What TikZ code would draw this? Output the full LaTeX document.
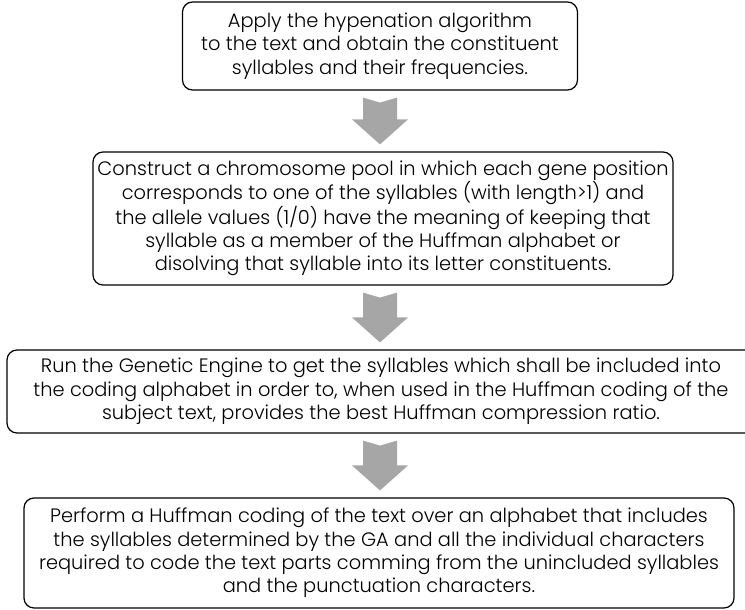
\documentclass[tikz,border=0pt]{standalone}
\usepackage{fontspec}
\setmainfont{Poppins}[UprightFont=* Light]
\usetikzlibrary{calc}

\tikzset{
    stagebox/.style = {draw, line width=1.2pt, rounded corners=10pt, align=center,
                       inner sep=0pt,
                       font=\fontsize{19.4}{23.3}\selectfont},
    arrowfill/.style = {fill=black!35, draw=none}
}

% gray block arrow between two points
\newcommand{\grayarrow}[2]{%
    \path (#1) coordinate (s) (#2) coordinate (e);
    \fill[arrowfill] ($(s)+(-\shaftHalf,0)$) -- ($(s)+(0,\notchDepth)$) -- ($(s)+(\shaftHalf,0)$)
        -- ($(s|-e)+(\shaftHalf,-\headLength)$) -- ($(s|-e)+(\headHalf,-\headLength)$)
        -- (s|-e) -- ($(s|-e)+(-\headHalf,-\headLength)$) -- ($(s|-e)+(-\shaftHalf,-\headLength)$) -- cycle;
}

\begin{document}
\begin{tikzpicture}[x=1pt, y=-1pt]
    % Define dimensions
    \def\shaftHalf{17}   % half width of arrow shaft
    \def\headHalf{28}    % half width of arrow head
    \def\headLength{25}  % length of arrow head
    \def\notchDepth{5}   % notch at the arrow tail
    \def\gap{7}          % gap between box and arrow

    \useasboundingbox (0,0) rectangle (745,610);

    %Boxes
    \node[stagebox, minimum width=395, minimum height=88] (apply) at (380,46)
        {Apply the hypenation algorithm\\ to the text and obtain the constituent\\ syllables and their frequencies.};
    \node[stagebox, minimum width=580, minimum height=133] (pool) at (383,218.5)
        {Construct a chromosome pool in which each gene position\\ corresponds to one of the syllables (with length>1) and\\ the allele values (1/0) have the meaning of keeping that\\ syllable as a member of the Huffman alphabet or\\ disolving that syllable into its letter constituents.};
    \node[stagebox, minimum width=748, minimum height=83] (engine) at (381,391.5)
        {Run the Genetic Engine to get the syllables which shall be included into\\ the coding alphabet in order to, when used in the Huffman coding of the\\ subject text, provides the best Huffman compression ratio.};
    \node[stagebox, minimum width=710, minimum height=110] (coding) at (379,553)
        {Perform a Huffman coding of the text over an alphabet that includes\\ the syllables determined by the GA and all the individual characters\\ required to code the text parts comming from the unincluded syllables\\ and the punctuation characters.};

    %Arrows
    \grayarrow{$(apply.south)+(0,\gap)$}{$(pool.north-|apply.south)+(0,-\gap)$}
    \grayarrow{$(pool.south-|apply.south)+(0,\gap)$}{$(engine.north-|apply.south)+(0,-\gap)$}
    \grayarrow{$(engine.south-|apply.south)+(0,\gap)$}{$(coding.north-|apply.south)+(0,-\gap)$}

\end{tikzpicture}
\end{document}
